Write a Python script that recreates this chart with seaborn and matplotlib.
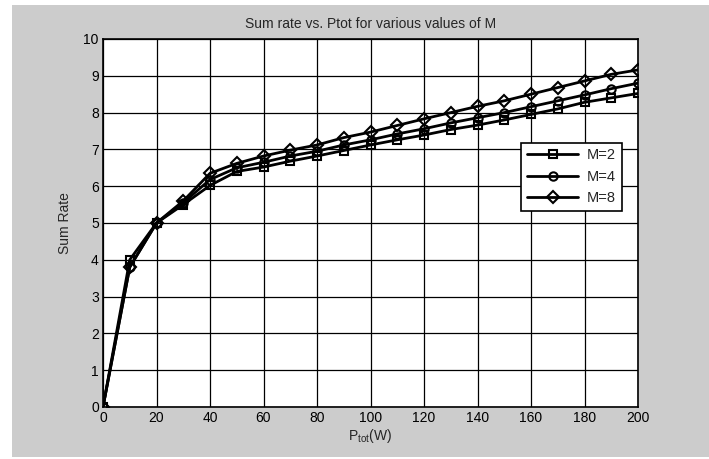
import matplotlib
matplotlib.use("Agg")
import pandas as pd
import seaborn as sns
from matplotlib import pyplot as plt
from matplotlib.patches import Rectangle

# power values (W)
p_tot = [0, 10, 20, 30, 40, 50, 60, 70, 80, 90, 100,
         110, 120, 130, 140, 150, 160, 170, 180, 190, 200]

# sum rate for each M
rate_m2 = [0, 4.0, 5.0, 5.5, 6.02, 6.4, 6.52, 6.68, 6.82, 6.97, 7.12,
           7.26, 7.39, 7.54, 7.66, 7.8, 7.95, 8.1, 8.28, 8.4, 8.52]
rate_m4 = [0, 3.8, 5.0, 5.55, 6.18, 6.5, 6.65, 6.82, 6.95, 7.12, 7.26,
           7.42, 7.56, 7.72, 7.86, 8.0, 8.16, 8.32, 8.48, 8.65, 8.8]
rate_m8 = [0, 3.8, 5.0, 5.6, 6.35, 6.62, 6.82, 6.98, 7.12, 7.32, 7.47,
           7.65, 7.83, 8.0, 8.17, 8.32, 8.5, 8.68, 8.86, 9.04, 9.16]

labels = ["M=2", "M=4", "M=8"]
x_ticks = list(range(0, 201, 20))
y_ticks = list(range(0, 11))

df = pd.concat([
    pd.DataFrame({"P": p_tot, "rate": r, "M": lab})
    for r, lab in zip([rate_m2, rate_m4, rate_m8], labels)
])

sns.set_style("white")
plt.rcParams["font.family"] = ["Liberation Sans", "DejaVu Sans"]
plt.rcParams["mathtext.default"] = "regular"

fig = plt.figure(figsize=(7.09, 4.59), dpi=100, facecolor="white")
fig.patches.append(Rectangle((12 / 709, 2 / 459), 1 - 12 / 709, 1 - 7 / 459,
                             transform=fig.transFigure, facecolor="#cccccc",
                             edgecolor="none", zorder=-10))
ax = fig.add_axes([103 / 709, 1 - 407 / 459, 535 / 709, 368 / 459])
ax.set_facecolor("white")

sns.lineplot(data=df, x="P", y="rate", hue="M", style="M",
             palette=["black"] * 3, markers=["s", "o", "D"], dashes=False,
             linewidth=2, markersize=6, markerfacecolor="none",
             markeredgecolor="black", markeredgewidth=1.5, ax=ax)

ax.set_xlim(0, 200)
ax.set_ylim(0, 10)
ax.set_xticks(x_ticks)
ax.set_yticks(y_ticks)
ax.grid(True, color="black", linewidth=0.9, linestyle="-")
ax.set_axisbelow(True)
for s in ax.spines.values():
    s.set_color("black")
    s.set_linewidth(1.2)
ax.tick_params(direction="in", length=4, labelsize=10, colors="black", pad=3)

ax.set_title("Sum rate vs. Ptot for various values of M", fontsize=10, pad=8)
ax.set_xlabel("P$_{tot}$(W)", fontsize=10, labelpad=1)
ax.set_ylabel("Sum Rate", fontsize=10, labelpad=8)

handles, _ = ax.get_legend_handles_labels()
leg = ax.legend(handles, labels, loc="center", bbox_to_anchor=(0.876, 0.626),
                fontsize=10.5, frameon=True, fancybox=False, framealpha=1,
                edgecolor="black", handlelength=3.5, borderpad=0.4,
                labelspacing=0.5, handletextpad=0.6)
leg.get_frame().set_linewidth(1.2)

fig.savefig("out.png", dpi=100, facecolor=fig.get_facecolor())
